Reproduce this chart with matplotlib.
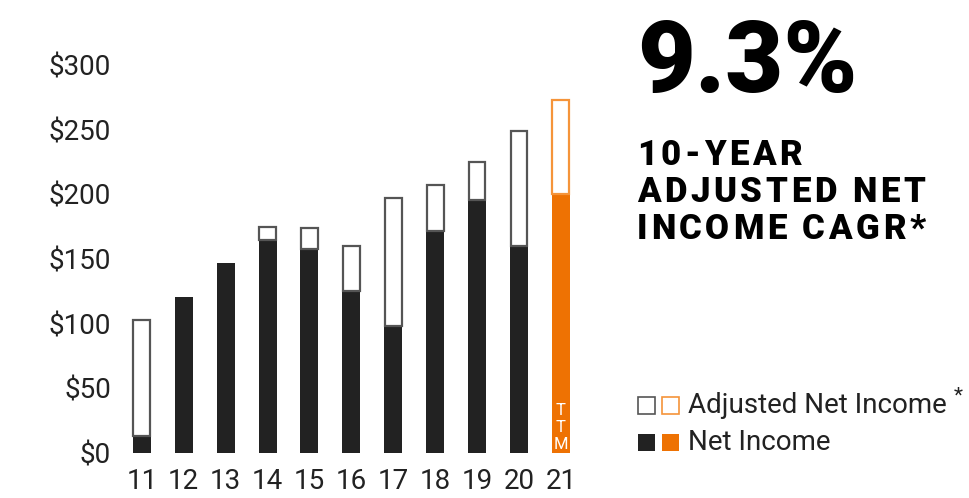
import matplotlib.pyplot as plt
from matplotlib.patches import Rectangle
from matplotlib.font_manager import FontProperties

# data ($M)
years = ['11', '12', '13', '14', '15', '16', '17', '18', '19', '20', '21']
net_income = [13, 121, 147, 165, 158, 125, 98, 172, 196, 160, 200]
adj_net_income = [103, 121, 147, 175, 174, 160, 197, 207, 225, 249, 273]
y_ticks = [0, 50, 100, 150, 200, 250, 300]
headline = '9.3%'
sub_lines = ['10-YEAR', 'ADJUSTED NET', 'INCOME CAGR*']

dark = '#222222'
edge = '#555555'
orange = '#EE7203'
orange_edge = '#F5943A'

plt.rcParams['font.family'] = ['Roboto', 'DejaVu Sans']

W, H = 970, 498
fig = plt.figure(figsize=(W / 100, H / 100), dpi=100)
ax = fig.add_axes([0.116, 0.0904, 0.4924, 0.7789])

x = list(range(len(years)))
w = 0.43
for i in x:
    last = i == len(years) - 1
    fc = orange if last else dark
    ec = orange_edge if last else edge
    ax.bar(i, net_income[i], width=w, color=fc, linewidth=0)
    extra = adj_net_income[i] - net_income[i]
    if extra > 0:
        ax.bar(i, extra, bottom=net_income[i], width=w - 0.03, color='white',
               edgecolor=ec, linewidth=1.6)

ax.text(x[-1], 0.5, 'T\nT\nM', color='white', ha='center', va='bottom',
        fontsize=12, linespacing=1.2)

ax.set_xlim(-0.7, 10.7)
ax.set_ylim(0, 300)
ax.set_xticks(x)
ax.set_xticklabels(years)
ax.set_yticks(y_ticks)
ax.set_yticklabels(['$%d' % v for v in y_ticks])
ax.tick_params(length=0, labelsize=20, colors='#222222')
ax.tick_params(axis='x', pad=11)
ax.tick_params(axis='y', pad=1)
for s in ax.spines.values():
    s.set_visible(False)


# text with letter spacing, placed char by char (pixel coords from top-left)
def tracked(x_px, y_px, s, track, prop):
    r = fig.canvas.get_renderer()
    for ch in s:
        fig.text(x_px / W, 1 - y_px / H, ch, fontproperties=prop, va='baseline', color='black')
        cw = r.get_text_width_height_descent(ch, prop, ismath=False)[0]
        x_px += cw + track


fig.text(637 / W, 1 - 92 / H, headline, fontsize=72, fontweight='black', color='black',
         va='baseline')

sub_prop = FontProperties(family='Roboto', weight='black', size=25)
rend = fig.canvas.get_renderer()
natural = sum(rend.get_text_width_height_descent(c, sub_prop, ismath=False)[0] for c in sub_lines[1])
track = (288 - natural) / (len(sub_lines[1]) - 1)
for k, line in enumerate(sub_lines):
    tracked(637, 165 + k * 37, line, track, sub_prop)

# legend
sq = 17 / W
sqh = 17 / H
fig.patches.append(Rectangle((638 / W, 1 - 414 / H), sq, sqh, transform=fig.transFigure,
                             facecolor='white', edgecolor=edge, linewidth=1.2))
fig.patches.append(Rectangle((662 / W, 1 - 414 / H), sq, sqh, transform=fig.transFigure,
                             facecolor='white', edgecolor=orange_edge, linewidth=1.2))
fig.patches.append(Rectangle((638 / W, 1 - 451 / H), sq, sqh, transform=fig.transFigure,
                             facecolor=dark, linewidth=0))
fig.patches.append(Rectangle((662 / W, 1 - 451 / H), sq, sqh, transform=fig.transFigure,
                             facecolor=orange, linewidth=0))
fig.text(688 / W, 1 - 405 / H, 'Adjusted Net Income', fontsize=20, color=dark, va='center')
fig.text(958 / W, 1 - 396 / H, '*', fontsize=15, color=dark, va='center', ha='center')
fig.text(688 / W, 1 - 442 / H, 'Net Income', fontsize=20, color=dark, va='center')

fig.savefig('out.png', dpi=100)
